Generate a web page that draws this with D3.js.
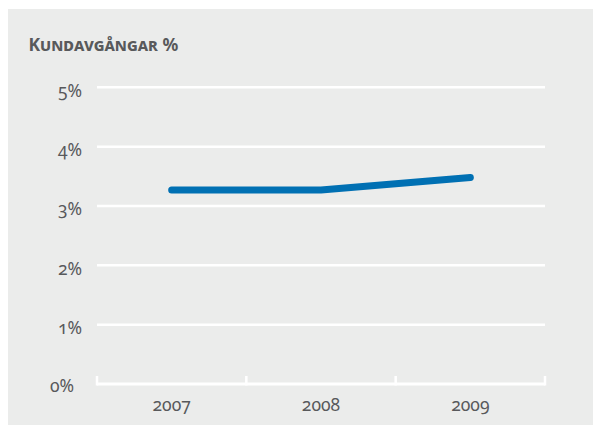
<!DOCTYPE html>
<html><head><meta charset="utf-8">
<script src="https://cdn.jsdelivr.net/npm/d3@7"></script>
<style>
html,body{margin:0;padding:0;background:#fff;}
#wrap{position:relative;width:593px;height:425px;}
svg{display:block;position:absolute;left:0;top:0;}
.lbl{position:absolute;white-space:nowrap;line-height:1;color:#58595b;
  font-family:"Noto Sans","Open Sans",sans-serif;font-feature-settings:"onum" 1;}
</style></head>
<body>
<div id="wrap"><svg id="c" width="593" height="425"></svg></div>
<script>
const title = "Kundavgångar %";
const years = ["2007", "2008", "2009"];
const values = [3.27, 3.27, 3.48];
const yTicks = [0, 1, 2, 3, 4, 5];

const wrap = d3.select("#wrap");
const svg = d3.select("#c");
svg.append("rect").attr("x", 8).attr("y", 9).attr("width", 585).attr("height", 416).attr("fill", "#ebeceb");

const x = d3.scaleBand().domain(years).range([97, 545]);
const y = d3.scaleLinear().domain([0, 5]).range([384, 87.3]);

const ASC = 0.888;
function label(txt, lx, by, fs, anchor, extra) {
  const d = wrap.append("div").attr("class", "lbl").text(txt)
    .style("left", lx + "px").style("top", (by - ASC * fs) + "px")
    .style("font-size", fs + "px")
    .style("transform", `translateX(${-anchor * 100}%)`);
  if (extra) extra(d);
  return d;
}

// gridlines
svg.append("g").selectAll("line").data(yTicks.filter(d => d > 0)).join("line")
  .attr("x1", 97).attr("x2", 545)
  .attr("y1", d => y(d)).attr("y2", d => y(d))
  .attr("stroke", "#fff").attr("stroke-width", 2.5);

// y labels
yTicks.forEach(d => label(d + "%", d === 0 ? 74 : 82, y(d) + (d === 0 ? 8.5 : 10), 17.5, 1));

// x axis baseline and band separators
svg.append("line").attr("x1", 97).attr("x2", 545).attr("y1", 384).attr("y2", 384)
  .attr("stroke", "#fff").attr("stroke-width", 3);
const bounds = years.map(d => x(d)).concat([x(years[years.length - 1]) + x.bandwidth()]);
svg.append("g").selectAll("line").data(bounds).join("line")
  .attr("x1", d => d).attr("x2", d => d).attr("y1", 376).attr("y2", 385.5)
  .attr("stroke", "#fff").attr("stroke-width", 2.5);

years.forEach(d => label(d, x(d) + x.bandwidth() / 2, 411.3, 17.5, 0.5));

// line
const line = d3.line().x((d, i) => x(years[i]) + x.bandwidth() / 2).y(d => y(d));
svg.append("path").datum(values).attr("d", line)
  .attr("fill", "none").attr("stroke", "#0070b3").attr("stroke-width", 7)
  .attr("stroke-linecap", "round").attr("stroke-linejoin", "round");

// title
label(title, 28.5, 51.5, 17.5, 0, d => d.style("font-weight", "bold")
  .style("font-feature-settings", '"smcp" 1, "onum" 1'));
</script>
</body></html>
